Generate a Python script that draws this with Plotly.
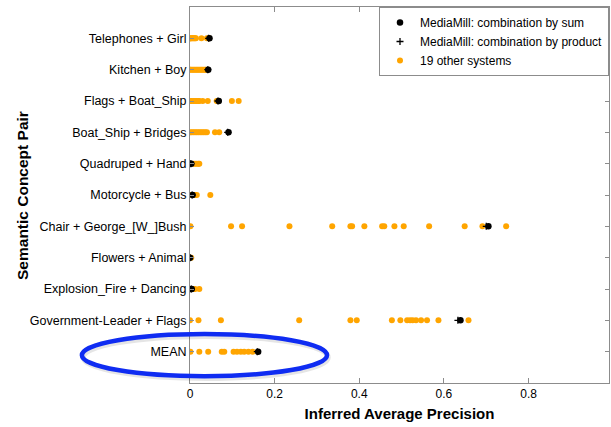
import plotly.graph_objects as go

# Concept pairs, listed top to bottom
pairs = [
    "Telephones + Girl",
    "Kitchen + Boy",
    "Flags + Boat_Ship",
    "Boat_Ship + Bridges",
    "Quadruped + Hand",
    "Motorcycle + Bus",
    "Chair + George_[W_]Bush",
    "Flowers + Animal",
    "Explosion_Fire + Dancing",
    "Government-Leader + Flags",
    "MEAN",
]

# Inferred average precision of the 19 other systems, per pair
others = [
    [0, 0, 0.002, 0.004, 0.006, 0.008, 0.01, 0.012, 0.014, 0.027, 0.04, 0.045],
    [0, 0.003, 0.006, 0.009, 0.012, 0.015, 0.018, 0.021, 0.024, 0.027, 0.03, 0.033, 0.036, 0.038],
    [0, 0.004, 0.008, 0.012, 0.016, 0.02, 0.022, 0.03, 0.042, 0.063, 0.066, 0.099, 0.115],
    [0, 0.004, 0.008, 0.012, 0.016, 0.02, 0.024, 0.028, 0.032, 0.036, 0.04, 0.059, 0.069],
    [0, 0.008, 0.012, 0.016, 0.02, 0.022],
    [0, 0.004, 0.012, 0.016, 0.048],
    [0.001, 0.097, 0.123, 0.235, 0.336, 0.379, 0.383, 0.412, 0.454, 0.459, 0.483,
     0.505, 0.565, 0.649, 0.691, 0.747],
    [0, 0.003],
    [0, 0.008, 0.012, 0.022],
    [0.0, 0.02, 0.073, 0.258, 0.379, 0.394, 0.477, 0.497, 0.513, 0.52, 0.526, 0.534,
     0.546, 0.56, 0.587, 0.658],
    [0.001, 0.022, 0.043, 0.075, 0.081, 0.103, 0.111, 0.12, 0.128, 0.138, 0.148],
]

# MediaMill runs
mm_sum = [0.046, 0.043, 0.068, 0.091, 0.003, 0.006, 0.705, 0.0, 0.004, 0.639, 0.161]
mm_product = [0.044, 0.042, 0.066, 0.089, 0.002, 0.005, 0.700, 0.0, 0.003, 0.633, 0.159]

x_ticks = [0, 0.2, 0.4, 0.6, 0.8]
x_tick_text = ["0", "0.2", "0.4", "0.6", "0.8"]

pos = list(range(len(pairs)))

ox, oy = [], []
for i, vals in enumerate(others):
    ox += vals
    oy += [i] * len(vals)

fig = go.Figure()
fig.add_trace(go.Scatter(
    x=ox, y=oy, mode="markers", name="19 other systems",
    marker=dict(color="#FFA500", size=6, line=dict(width=0)),
    legendrank=3,
))
fig.add_trace(go.Scatter(
    x=mm_product, y=pos, mode="markers", name="MediaMill: combination by product",
    marker=dict(color="black", symbol="cross-thin", size=5, line=dict(color="black", width=1.3)),
    legendrank=2,
))
fig.add_trace(go.Scatter(
    x=mm_sum, y=pos, mode="markers", name="MediaMill: combination by sum",
    marker=dict(color="black", size=6.5, line=dict(width=0)),
    legendrank=1,
))

axis_col = "#8c8c8c"
fig.update_xaxes(
    range=[0, 0.99], tickvals=x_ticks, ticktext=x_tick_text,
    ticks="inside", ticklen=5, tickcolor=axis_col, showline=True, linecolor=axis_col,
    linewidth=1, mirror="ticks", showgrid=False, zeroline=False,
    tickfont=dict(size=12, color="black"),
    title=dict(text="<b>Inferred Average Precision</b>", font=dict(size=15, color="black"), standoff=8),
)
fig.update_yaxes(
    range=[len(pairs), -1], tickvals=pos, ticktext=pairs,
    ticks="inside", ticklen=4, tickcolor=axis_col, showline=True, linecolor=axis_col,
    linewidth=1, mirror="ticks", showgrid=False, zeroline=False,
    tickfont=dict(size=12.5, color="black"),
)

# Vertical axis title, placed just left of the category labels
fig.add_annotation(
    text="<b>Semantic Concept Pair</b>", textangle=-90,
    xref="paper", yref="paper", x=-0.401, y=0.5,
    xanchor="center", yanchor="middle", showarrow=False,
    font=dict(size=15.5, color="black"),
)

# Highlight ring around the MEAN row (with a soft drop shadow)
fig.add_shape(type="circle", xref="paper", yref="paper",
              x0=-0.255, x1=0.330, y0=0.012, y1=0.124,
              line=dict(color="rgba(0,0,0,0.10)", width=5))
fig.add_shape(type="circle", xref="paper", yref="paper",
              x0=-0.258, x1=0.327, y0=0.018, y1=0.130,
              line=dict(color="#0f2cf2", width=4.5))

fig.update_layout(
    width=611, height=427,
    margin=dict(l=190, r=2, t=7, b=44),
    plot_bgcolor="white", paper_bgcolor="white",
    font=dict(family="Liberation Sans, Arial, sans-serif", color="black"),
    legend=dict(x=1, y=1, xanchor="right", yanchor="top",
                bgcolor="white", bordercolor=axis_col, borderwidth=1,
                font=dict(size=12), itemwidth=30, tracegroupgap=0),
    showlegend=True,
)

fig.write_html("out.html")
